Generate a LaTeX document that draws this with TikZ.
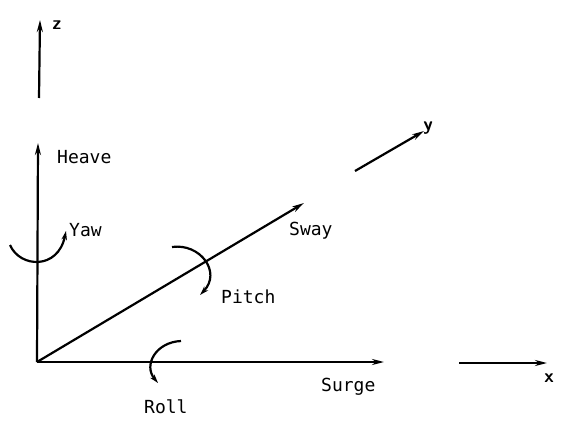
\documentclass[tikz,border=0pt]{standalone}
\usepackage{fontspec}
\setmonofont{DejaVu Sans Mono}
\usetikzlibrary{arrows.meta}
\begin{document}
\begin{tikzpicture}[x=1pt,y=-1pt,
  ax/.style={line width=2.2pt,-{Stealth[length=12pt,width=6pt]}},
  rot/.style={line width=2.2pt,-{Stealth[length=9pt,width=5.5pt]}},
  lbl/.style={font=\ttfamily\fontsize{18}{18}\selectfont,inner sep=0pt},
  axl/.style={font=\sffamily\bfseries\fontsize{19}{19}\selectfont,inner sep=0pt}]
\useasboundingbox (0,0) rectangle (562,423);
% coordinates
\coordinate (O) at (37,362);
\coordinate (zb) at (39,98);  \coordinate (zt) at (40,20);
\coordinate (ht) at (38,143);
\coordinate (st) at (304,203);
\coordinate (yb) at (355,171); \coordinate (yt) at (424,131);
\coordinate (sx) at (384,362);
\coordinate (xb) at (459,363); \coordinate (xt) at (547,363);
% axes
\draw[ax] (zb) -- (zt);
\draw[ax] (O) -- (ht);
\draw[ax] (O) -- (st);
\draw[ax] (yb) -- (yt);
\draw[ax] (O) -- (sx);
\draw[ax] (xb) -- (xt);
% rotations
\coordinate (ya) at (10,245); \coordinate (yz) at (66,231);
\draw[rot] (ya) .. controls (20,268) and (58,270) .. (yz);
\coordinate (pa) at (172,247); \coordinate (pz) at (200,295);
\draw[rot] (pa) .. controls (200,243) and (222,272) .. (pz);
\coordinate (ra) at (181,341); \coordinate (rz) at (158,383);
\draw[rot] (ra) .. controls (156,342) and (143,365) .. (rz);
% labels
\node[axl] (zl) at (57,25) {z};
\node[axl] (yl) at (428,128) {y};
\node[axl] (xl) at (549,378) {x};
\node[lbl,anchor=west] (heave) at (57,157) {Heave};
\node[lbl,anchor=west] (yaw) at (69,230) {Yaw};
\node[lbl,anchor=west] (sway) at (289,231) {Sway};
\node[lbl,anchor=west] (pitch) at (221,297) {Pitch};
\node[lbl,anchor=west] (surge) at (321,387) {Surge};
\node[lbl,anchor=west] (roll) at (144,407) {Roll};
\end{tikzpicture}
\end{document}
